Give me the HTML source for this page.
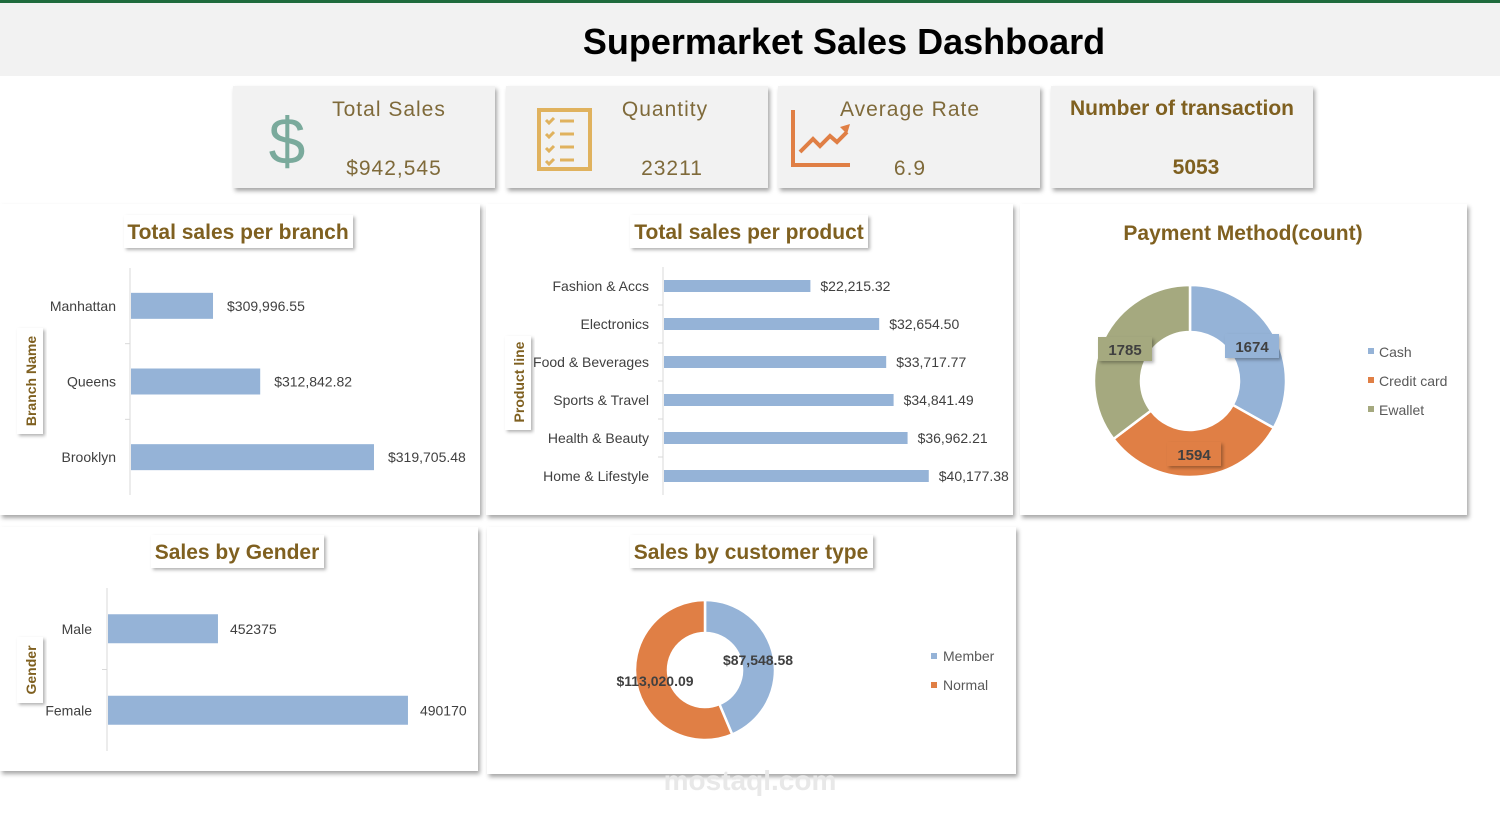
<!DOCTYPE html>
<html><head><meta charset="utf-8">
<style>
html,body{margin:0;padding:0;background:#fff;width:1500px;height:814px;overflow:hidden;font-family:"Liberation Sans",sans-serif;}
svg text{font-family:"Liberation Sans",sans-serif;}
</style></head>
<body>
<svg id="dash" width="1500" height="814" viewBox="0 0 1500 814" xmlns="http://www.w3.org/2000/svg">
<defs>
<filter id="sh" x="-5%" y="-5%" width="112%" height="115%"><feDropShadow dx="2" dy="3" stdDeviation="2" flood-color="#000" flood-opacity="0.35"/></filter>
<filter id="sh2" x="-10%" y="-10%" width="125%" height="140%"><feDropShadow dx="2" dy="2" stdDeviation="1.5" flood-color="#000" flood-opacity="0.3"/></filter>
</defs>
<rect x="0" y="0" width="1500" height="3" fill="#1f6b3d"/>
<rect x="0" y="3" width="1500" height="73" fill="#f2f2f2"/>
<text x="844" y="54" text-anchor="middle" font-size="36" font-weight="bold" fill="#000">Supermarket Sales Dashboard</text>

<g>
<rect x="233" y="86" width="262" height="102" fill="#f2f2f2" filter="url(#sh)"/>
<text x="287" y="164" text-anchor="middle" font-size="66" fill="#7aaa9c">$</text>
<text x="389" y="116" text-anchor="middle" font-size="21" fill="#7f6a3a" letter-spacing="1">Total Sales</text>
<text x="394" y="175" text-anchor="middle" font-size="21" fill="#7f6a3a" letter-spacing="1">$942,545</text>
</g>
<g>
<rect x="506" y="86" width="262" height="102" fill="#f2f2f2" filter="url(#sh)"/>
<g fill="#e0b25e" stroke="#e0b25e">
<rect x="539" y="110" width="51" height="59" fill="none" stroke-width="4"/>
<g stroke-width="3" fill="none"><path d="M546 120l3 3 5-5M546 134l3 3 5-5M546 148l3 3 5-5M546 161l3 3 5-5"/><path d="M560 121h14M560 134h14M560 147h14M560 160h14"/></g>
</g>
<text x="665" y="116" text-anchor="middle" font-size="21" fill="#7f6a3a" letter-spacing="1">Quantity</text>
<text x="672" y="175" text-anchor="middle" font-size="21" fill="#7f6a3a" letter-spacing="1">23211</text>
</g>
<g>
<rect x="778" y="86" width="262" height="102" fill="#f2f2f2" filter="url(#sh)"/>
<g fill="none" stroke="#e07f45" stroke-width="4">
<path d="M793 110v55h57"/><path d="M800 152l13-13 7 7 10-10 7 6 10-10"/>
</g>
<path d="M840 127l10-3-3 10z" fill="#e07f45"/>
<text x="910" y="116" text-anchor="middle" font-size="21" fill="#7f6a3a" letter-spacing="1">Average Rate</text>
<text x="910" y="175" text-anchor="middle" font-size="21" fill="#7f6a3a" letter-spacing="1">6.9</text>
</g>
<g>
<rect x="1051" y="86" width="262" height="102" fill="#f2f2f2" filter="url(#sh)"/>
<text x="1182" y="115" text-anchor="middle" font-size="21" font-weight="bold" fill="#7f6020">Number of transaction</text>
<text x="1196" y="174" text-anchor="middle" font-size="21" font-weight="bold" fill="#7f6020">5053</text>
</g>

<rect x="0" y="204" width="480" height="311" fill="#fff" filter="url(#sh)"/>
<rect x="486" y="204" width="527" height="311" fill="#fff" filter="url(#sh)"/>
<rect x="1020" y="204" width="447" height="311" fill="#fff" filter="url(#sh)"/>
<rect x="0" y="527" width="478" height="244" fill="#fff" filter="url(#sh)"/>
<rect x="487" y="527" width="529" height="247" fill="#fff" filter="url(#sh)"/>

<g><rect x="124" y="215" width="229" height="33" fill="#fff" filter="url(#sh2)"/><text x="238" y="239" text-anchor="middle" font-size="21" font-weight="bold" fill="#7f6020">Total sales per branch</text></g>
<g><rect x="630" y="215" width="238" height="33" fill="#fff" filter="url(#sh2)"/><text x="749" y="239" text-anchor="middle" font-size="21" font-weight="bold" fill="#7f6020">Total sales per product</text></g>
<text x="1243" y="240" text-anchor="middle" font-size="21" font-weight="bold" fill="#7f6020">Payment Method(count)</text>
<g><rect x="151" y="535" width="173" height="33" fill="#fff" filter="url(#sh2)"/><text x="237" y="559" text-anchor="middle" font-size="21" font-weight="bold" fill="#7f6020">Sales by Gender</text></g>
<g><rect x="630" y="535" width="243" height="33" fill="#fff" filter="url(#sh2)"/><text x="751" y="559" text-anchor="middle" font-size="21" font-weight="bold" fill="#7f6020">Sales by customer type</text></g>

<g><rect x="17" y="328" width="26" height="106" fill="#fff" filter="url(#sh2)"/><text transform="translate(36,381) rotate(-90)" text-anchor="middle" font-size="14" font-weight="bold" fill="#7f6020">Branch Name</text></g>
<g><rect x="505" y="336" width="26" height="94" fill="#fff" filter="url(#sh2)"/><text transform="translate(524,382) rotate(-90)" text-anchor="middle" font-size="14" font-weight="bold" fill="#7f6020">Product line</text></g>
<g><rect x="17" y="637" width="26" height="66" fill="#fff" filter="url(#sh2)"/><text transform="translate(36,670) rotate(-90)" text-anchor="middle" font-size="14" font-weight="bold" fill="#7f6020">Gender</text></g>

<g id="charts"></g>
<text x="750" y="790" text-anchor="middle" font-size="28" fill="#e8e8e8" font-weight="bold">mostaql.com</text>
</svg>
<script>
const branchCats=["Manhattan","Queens","Brooklyn"];
const branchVals=[309996.55,312842.82,319705.48];
const branchLabels=["$309,996.55","$312,842.82","$319,705.48"];
const productCats=["Fashion & Accs","Electronics","Food & Beverages","Sports & Travel","Health & Beauty","Home & Lifestyle"];
const productVals=[22215.32,32654.50,33717.77,34841.49,36962.21,40177.38];
const productLabels=["$22,215.32","$32,654.50","$33,717.77","$34,841.49","$36,962.21","$40,177.38"];
const genderCats=["Male","Female"];
const genderVals=[452375,490170];
const genderLabels=["452375","490170"];
const payCats=["Cash","Credit card","Ewallet"];
const payVals=[1674,1594,1785];
const custCats=["Member","Normal"];
const custVals=[87548.58,113020.09];
const custLabels=["$87,548.58","$113,020.09"];

const NS="http://www.w3.org/2000/svg";
const root=document.getElementById('charts');
function mk(tag,attrs,parent,txt){const e=document.createElementNS(NS,tag);for(const k in attrs)e.setAttribute(k,attrs[k]);if(txt!==undefined)e.textContent=txt;(parent||root).appendChild(e);return e;}
const BLUE="#95b3d7",ORANGE="#e07f45",GREEN="#a5a97f",TXT="#404040";

function hbar(cats,vals,labels,o){
  const x=v=>o.x0+(v-o.min)*o.k;
  const ax=mk('line',{x1:o.x0-1,x2:o.x0-1,y1:o.top,y2:o.bot,stroke:'#d9d9d9'});
  
  
  const step=(o.bot-o.top)/cats.length;
  cats.forEach((c,i)=>{
    const cy=o.top+step*(i+0.5);
    if(i>0){const t=mk('line',{x1:o.x0-6,x2:o.x0-1,y1:o.top+step*i,y2:o.top+step*i,stroke:'#d9d9d9'});}
    const b=mk('rect',{x:o.x0,y:cy-o.h/2,width:Math.max(0,x(vals[i])-o.x0),height:o.h,fill:BLUE});
    
    
    const l=mk('text',{x:o.x0-o.catGap,y:cy+5,'text-anchor':'end','font-size':o.fs,fill:TXT},null,c);
    
    
    const v=mk('text',{x:x(vals[i])+o.valGap,y:cy+5,'font-size':o.fs,fill:TXT},null,labels[i]);
    
    
  });
}
hbar(branchCats,branchVals,branchLabels,{name:'branch',x0:131,min:305050,k:0.01658,top:268,bot:495,h:26,fs:14,catGap:15,valGap:14});
hbar(productCats,productVals,productLabels,{name:'product',x0:664,min:0,k:0.00659,top:267,bot:495,h:12,fs:14,catGap:15,valGap:10});
hbar(genderCats,genderVals,genderLabels,{name:'gender',x0:108,min:430500,k:0.005027,top:588,bot:751,h:29,fs:14,catGap:16,valGap:12});

function donut(vals,colors,cx,cy,R,r,name){
  const tot=vals.reduce((a,b)=>a+b,0);let a0=0;const mids=[];
  vals.forEach((v,i)=>{
    const a1=a0+v/tot*2*Math.PI;
    const p=(a,rr)=>[cx+rr*Math.sin(a),cy-rr*Math.cos(a)];
    const [x1,y1]=p(a0,R),[x2,y2]=p(a1,R),[x3,y3]=p(a1,r),[x4,y4]=p(a0,r);
    const lg=(a1-a0)>Math.PI?1:0;
    const s=mk('path',{d:`M${x1} ${y1}A${R} ${R} 0 ${lg} 1 ${x2} ${y2}L${x3} ${y3}A${r} ${r} 0 ${lg} 0 ${x4} ${y4}Z`,fill:colors[i],stroke:'#fff','stroke-width':2.5});
    
    
    mids.push((a0+a1)/2);a0=a1;
  });
  return mids;
}
const pm=donut(payVals,[BLUE,ORANGE,GREEN],1190,381,96,49,'payment');
const payOff=[[1252,346],[1194,454],[1125,349]];
payVals.forEach((v,i)=>{
  const [lx,ly]=payOff[i];
  const bx=mk('rect',{x:lx-27,y:ly-12,width:54,height:24,fill:[BLUE,ORANGE,GREEN][i],filter:'url(#sh2)'});
  
  
  const t=mk('text',{x:lx,y:ly+6,'text-anchor':'middle','font-size':15,'font-weight':'bold',fill:TXT},null,String(v));
  
  
});
payCats.forEach((c,i)=>{
  const sq=mk('rect',{x:1368,y:348+i*29,width:6,height:6,fill:[BLUE,ORANGE,GREEN][i]});
  
  
  const t=mk('text',{x:1379,y:357+i*29,'font-size':14,fill:'#595959'},null,c);
  
  
});
const cm=donut(custVals,[BLUE,ORANGE],705,670,70,37,'customer');
[[758,665],[655,686]].forEach((p,i)=>{
  const t=mk('text',{x:p[0],y:p[1],'text-anchor':'middle','font-size':14,'font-weight':'bold',fill:TXT},null,custLabels[i]);
  
  
});
custCats.forEach((c,i)=>{
  const sq=mk('rect',{x:931,y:653+i*29,width:6,height:6,fill:[BLUE,ORANGE][i]});
  
  
  const t=mk('text',{x:943,y:661+i*29,'font-size':14,fill:'#595959'},null,c);
  
  
});
</script>
</body></html>
